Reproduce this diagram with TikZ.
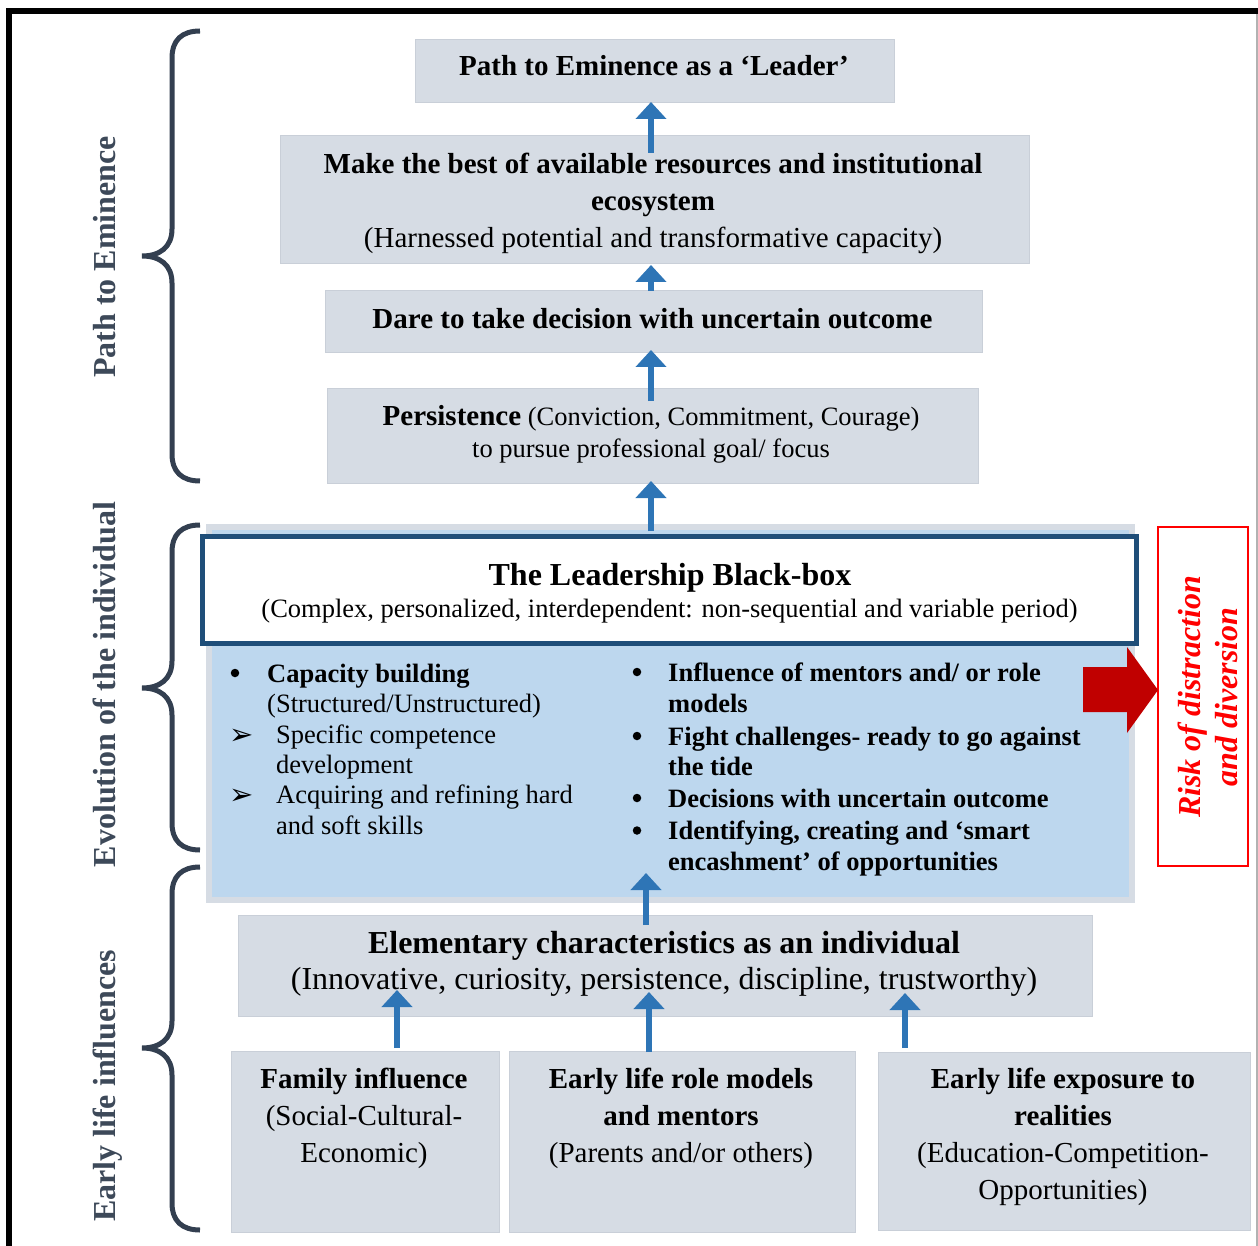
\documentclass[tikz,border=0pt]{standalone}
\usepackage{fontspec}
\setmainfont{Liberation Serif}
\newfontfamily\dingfont{DejaVu Sans}
\usetikzlibrary{arrows.meta,calc}
\definecolor{boxgray}{HTML}{D6DCE4}
\definecolor{boxedge}{HTML}{C9CFD8}
\definecolor{lblue}{HTML}{BDD7EE}
\definecolor{dblue}{HTML}{1F4E79}
\definecolor{arrblue}{HTML}{2E75B6}
\definecolor{darkred}{HTML}{C00000}
\definecolor{bracecol}{HTML}{333F50}
\definecolor{labcol}{HTML}{3D4959}
\newcommand\drawbrace[3]{%
 \draw[bracestyle] (200,-#1) .. controls (182,-#1) and (172,{-#1-9}) .. (172,{-#1-27})
   -- (172,{-#2+27}) .. controls (172,{-#2+9}) and (160,-#2) .. (142,-#2)
   .. controls (160,-#2) and (172,{-#2-9}) .. (172,{-#2-27})
   -- (172,{-#3+27}) .. controls (172,{-#3+9}) and (182,-#3) .. (200,-#3);}
\begin{document}
\begin{tikzpicture}[x=1pt,y=1pt,
  gbox/.style={fill=boxgray, draw=boxedge, line width=1pt, inner sep=0pt, outer sep=0pt, anchor=north west},
  barrow/.style={draw=arrblue, line width=6pt, -{Triangle[width=30pt,length=17pt]}},
  hd/.style={font=\fontsize{29}{37}\selectfont, align=center, inner sep=0pt},
  bul/.style={anchor=base west, inner sep=0pt, font=\fontsize{26.5}{31}\selectfont},
  bbul/.style={bul, font=\fontsize{26.5}{31}\selectfont\bfseries},
  dot/.style={circle, fill=black, inner sep=0pt, minimum size=8.5pt},
  arr/.style={anchor=base west, inner sep=0pt, font=\dingfont\fontsize{29}{31}\selectfont},
  sidelab/.style={rotate=90, text=labcol, font=\fontsize{32}{38}\selectfont\bfseries, inner sep=0pt},
  bracestyle/.style={draw=bracecol, line width=5pt}]
\useasboundingbox (0,0) rectangle (1258,-1246);
% frame
\draw[line width=6pt] (8.5,-1250) -- (8.5,-11) -- (1262,-11);
\draw[gray!60, line width=1.5pt] (1257,-14) -- (1257,-1250);
% braces
\drawbrace{31}{256}{481}
\drawbrace{525}{688}{850}
\drawbrace{867}{1048}{1230}
% side labels
\node[sidelab] (lab1) at (105,-257) {Path to Eminence};
\node[sidelab] (lab2) at (104,-684.5) {Evolution of the individual};
\node[sidelab] (lab3) at (108,-1086) {Early life influences};
% grey boxes
\node[gbox, minimum width=479pt, minimum height=63pt] (b1) at (415,-40) {};
\node[gbox, minimum width=749pt, minimum height=128pt] (b2) at (280,-136) {};
\node[gbox, minimum width=657pt, minimum height=62pt] (b3) at (325,-291) {};
\node[gbox, minimum width=651pt, minimum height=95pt] (b4) at (327,-388) {};
\node[gbox, minimum width=854pt, minimum height=101pt] (elem) at (238,-915) {};
\node[gbox, minimum width=268pt, minimum height=181pt] (fam) at (231,-1051) {};
\node[gbox, minimum width=346pt, minimum height=181pt] (role) at (509,-1051) {};
\node[gbox, minimum width=372pt, minimum height=178pt] (expo) at (878,-1052) {};
% blue region and black box
\node[fill=lblue, draw=boxgray, line width=6pt, inner sep=0pt, outer sep=0pt, anchor=north west,
      minimum width=923pt, minimum height=373pt] (blue) at (209,-527) {};
\node[fill=white, draw=dblue, line width=5pt, inner sep=0pt, outer sep=0pt, anchor=north west,
      minimum width=934pt, minimum height=106.5pt] (bbox) at (202.5,-536.5) {};
% texts
\node[hd, font=\fontsize{29}{37}\selectfont\bfseries] (t1) at (654,-66) {Path to Eminence as a ‘Leader’};
\node[hd] (t2) at (653,-203.5) {\textbf{Make the best of available resources and institutional}\\\textbf{ecosystem}\\(Harnessed potential and transformative capacity)};
\node[hd, font=\fontsize{29}{37}\selectfont\bfseries] (t3) at (652.5,-319) {Dare to take decision with uncertain outcome};
\node[hd, font=\fontsize{26.5}{32}\selectfont] (t4) at (651,-434) {{\fontsize{29}{32}\selectfont\bfseries Persistence} (Conviction, Commitment, Courage)\\to pursue professional goal/ focus};
\node[hd, font=\fontsize{32}{38}\selectfont\bfseries] (bt1) at (670,-578) {The Leadership Black-box};
\node[hd, font=\fontsize{26.5}{32}\selectfont] (bt2) at (669.5,-611) {(Complex, personalized, interdependent: non-sequential and variable period)};
% left column
\node[dot] (lb1) at (235,-673) {};
\node[bbul] (l1) at (267,-682) {Capacity building};
\node[bul] (l2) at (267,-712) {(Structured/Unstructured)};
\node[arr] (la1) at (229,-744) {➢};
\node[bul] (l3) at (276,-743) {Specific competence};
\node[bul] (l4) at (276,-773) {development};
\node[arr] (la2) at (229,-804) {➢};
\node[bul] (l5) at (276,-803) {Acquiring and refining hard};
\node[bul] (l6) at (276,-834) {and soft skills};
% right column
\node[dot] (rb1) at (637,-672) {};
\node[bbul] (r1) at (668,-681) {Influence of mentors and/ or role};
\node[bbul] (r2) at (668,-712) {models};
\node[dot] (rb2) at (637,-736) {};
\node[bbul] (r3) at (668,-745) {Fight challenges- ready to go against};
\node[bbul] (r4) at (668,-775) {the tide};
\node[dot] (rb3) at (637,-798) {};
\node[bbul] (r5) at (668,-807) {Decisions with uncertain outcome};
\node[dot] (rb4) at (637,-830.5) {};
\node[bbul] (r6) at (668,-839) {Identifying, creating and ‘smart};
\node[bbul] (r7) at (668,-870) {encashment’ of opportunities};
% bottom texts
\node[hd, font=\fontsize{32}{36}\selectfont] (te) at (664,-964) {\textbf{Elementary characteristics as an individual}\\(Innovative, curiosity, persistence, discipline, trustworthy)};
\node[hd] (tf) at (364,-1118) {\textbf{Family influence}\\(Social-Cultural-\\Economic)};
\node[hd] (tr) at (681,-1118.5) {\textbf{Early life role models}\\\textbf{and mentors}\\(Parents and/or others)};
\node[hd] (tx) at (1063,-1136.5) {\textbf{Early life exposure to}\\\textbf{realities}\\(Education-Competition-\\Opportunities)};
% blue arrows
\draw[barrow] ($(b2.north)+(-3.5,-17)$) -- ($(b1.south)+(-3.5,1)$);
\draw[barrow] ($(b3.north)+(-2.5,0)$) -- ($(b2.south)+(-3.5,-1)$);
\draw[barrow] ($(b4.north)+(-1.5,-13)$) -- ($(b3.south)+(-2.5,3)$);
\draw[barrow] ($(blue.north)+(-19.5,-4)$) -- ($(b4.south)+(-1.5,2)$);
\draw[barrow] ($(elem.north)+(-19,-10)$) -- ($(blue.south)+(-24.5,27)$);
\draw[barrow] ($(fam.north)+(32,3)$) -- ($(elem.south -| fam.north)+(32,26)$);
\draw[barrow] ($(role.north)+(-33,-1)$) -- ($(elem.south -| role.north)+(-33,24)$);
\draw[barrow] ($(expo.north)+(-159,4)$) -- ($(elem.south -| expo.north)+(-159,23)$);
% red arrow and risk box
\node[draw=red, line width=1.2pt, inner sep=0pt, outer sep=0pt, anchor=north west,
      minimum width=90pt, minimum height=339pt] (risk) at (1158,-527) {};
\fill[darkred] (1083,-667) -- (1127,-667) -- (1127,-647) -- (risk.west |- 0,-690) -- (1127,-733) -- (1127,-712) -- (1083,-712) -- cycle;
\node[rotate=90, text=red, align=center, inner sep=0pt,
      font=\fontsize{32}{37}\selectfont\bfseries\itshape] (risktext) at (1207.5,-697) {Risk of distraction\\and diversion};
\end{tikzpicture}
\end{document}
